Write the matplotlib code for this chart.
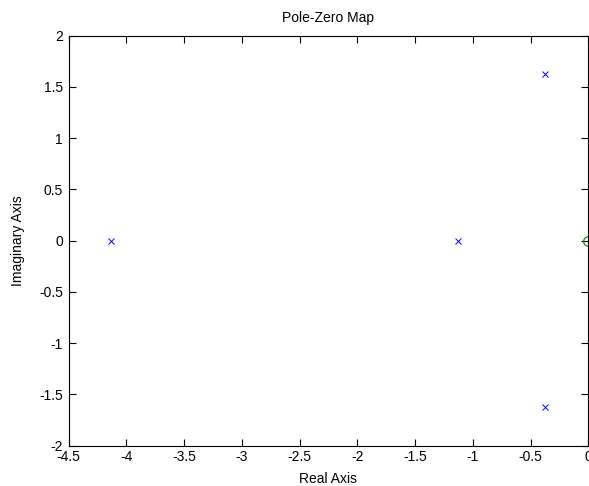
import matplotlib.pyplot as plt

pole_re = [-4.13, -1.13, -0.375, -0.375]
pole_im = [0.0, 0.0, 1.625, -1.625]
zero_re = [0.0]
zero_im = [0.0]

xticks = [-4.5, -4, -3.5, -3, -2.5, -2, -1.5, -1, -0.5, 0]
yticks = [-2, -1.5, -1, -0.5, 0, 0.5, 1, 1.5, 2]

plt.rcParams['font.family'] = ['Liberation Sans', 'DejaVu Sans']

fig = plt.figure(figsize=(5.89, 4.86), dpi=100)
ax = fig.add_axes([68.5/589, 40.3/486, (588.3-68.5)/589, 410/486])

ax.plot(pole_re, pole_im, 'x', color='blue', markersize=5, markeredgewidth=0.7)
ax.plot(zero_re, zero_im, 'o', color='green', markerfacecolor='none', markersize=7, markeredgewidth=0.8, clip_on=False)

ax.set_xlim(-4.5, 0)
ax.set_ylim(-2, 2)
ax.set_xticks(xticks)
ax.set_xticklabels(['-4.5', '-4', '-3.5', '-3', '-2.5', '-2', '-1.5', '-1', '-0.5', '0'])
ax.set_yticks(yticks)
ax.set_yticklabels(['-2', '-1.5', '-1', '-0.5', '0', '0.5', '1', '1.5', '2'])
ax.tick_params(direction='in', top=True, right=True, length=5, width=0.8, labelsize=10)
ax.tick_params(axis='x', pad=3)
ax.tick_params(axis='y', pad=4)
for s in ax.spines.values():
    s.set_linewidth(0.8)

ax.set_title('Pole-Zero Map', fontsize=10, pad=10)
ax.set_xlabel('Real Axis', fontsize=10, labelpad=6)
ax.set_ylabel('Imaginary Axis', fontsize=10, labelpad=10)

fig.savefig('out.png', dpi=100)
